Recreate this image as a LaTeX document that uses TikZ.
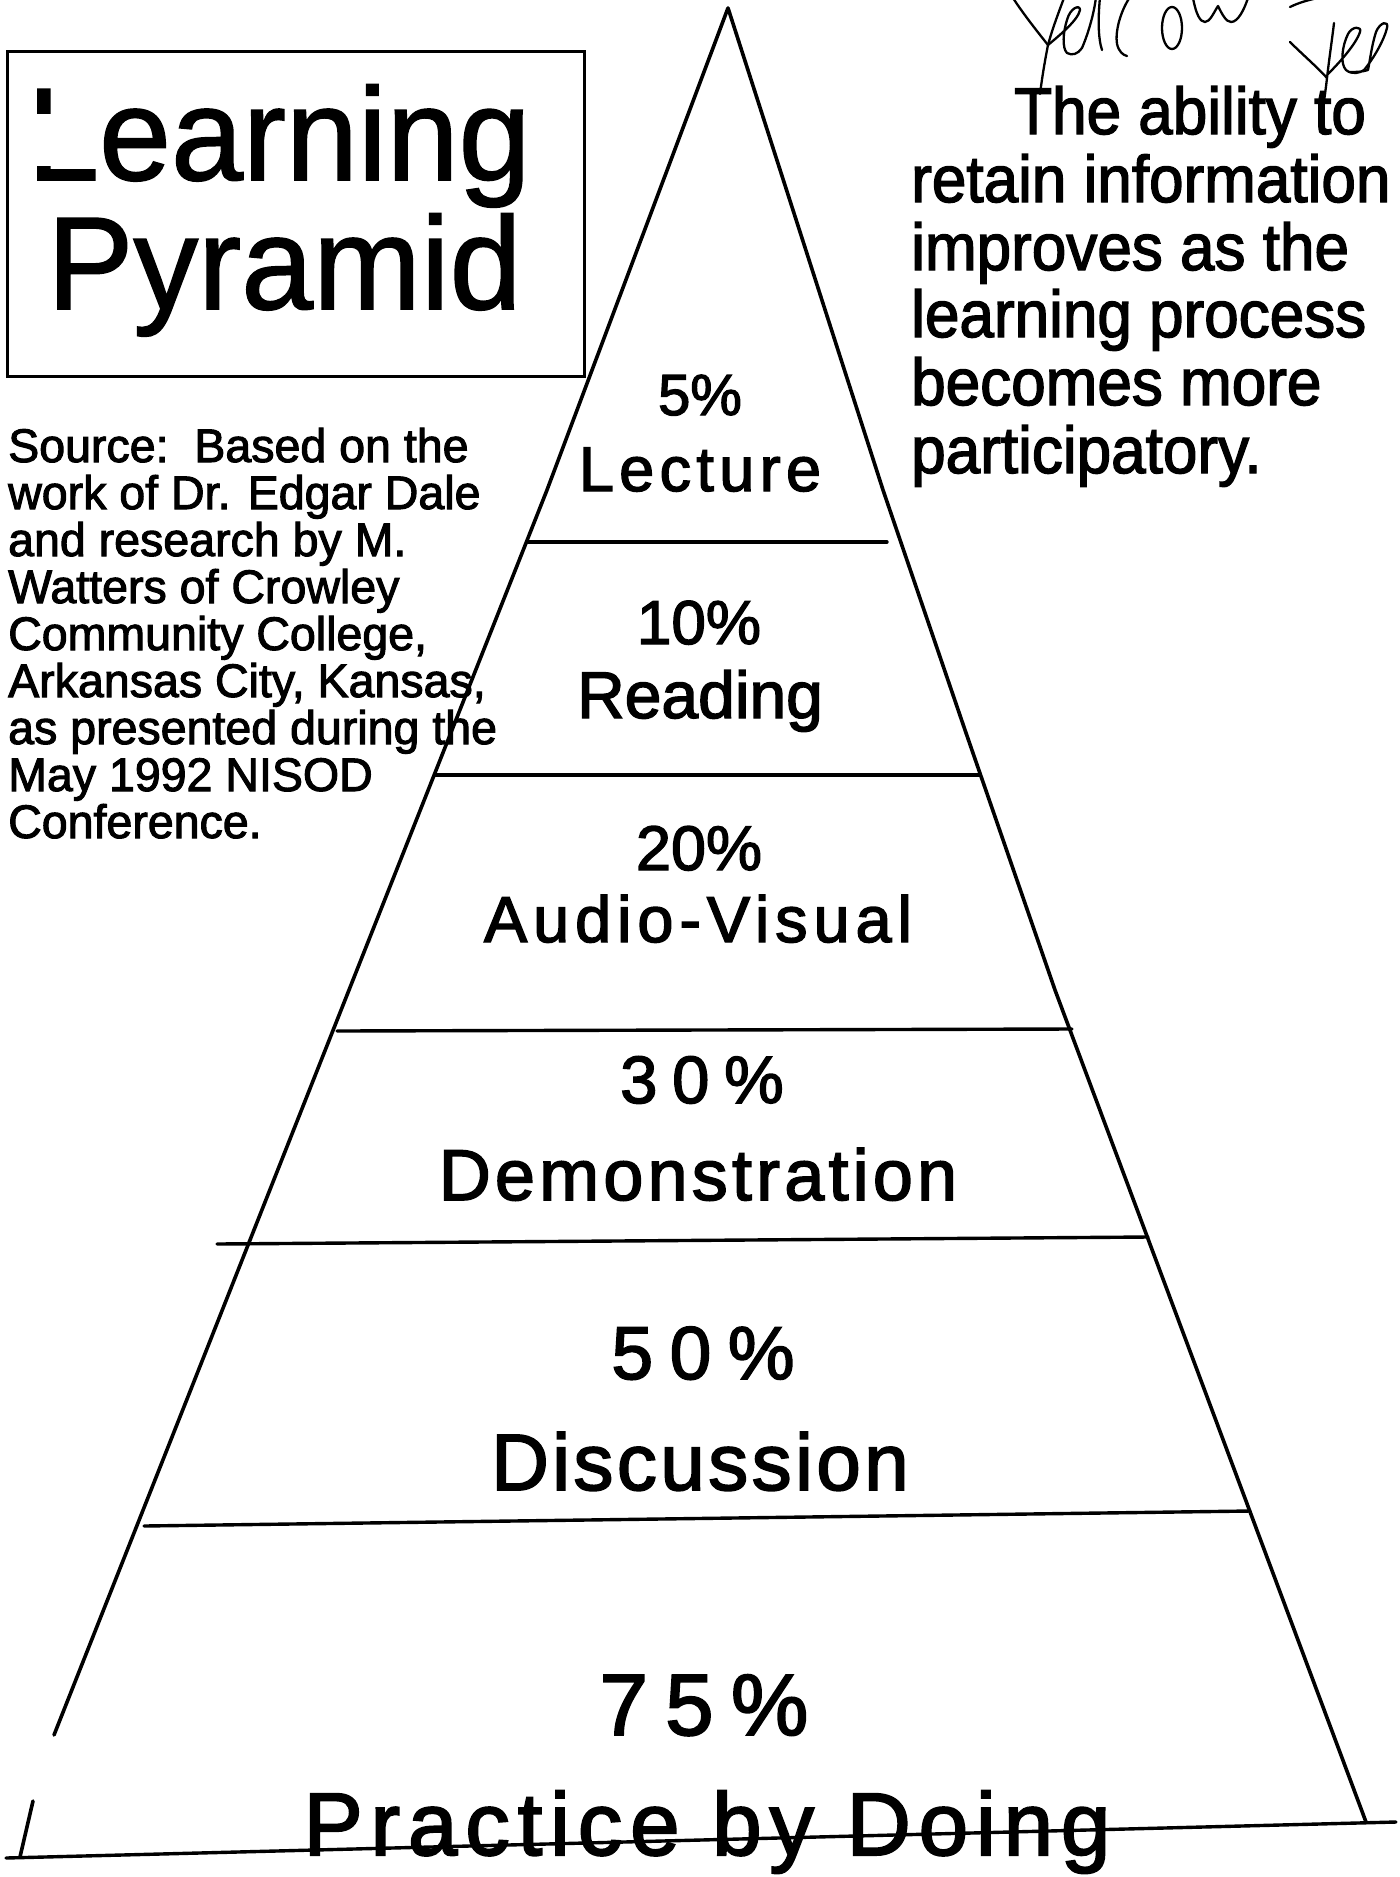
\documentclass[tikz,border=0pt]{standalone}
\usepackage{fontspec}
\usepackage{graphicx}
\setmainfont{Liberation Sans}
\newfontfamily\heavyfont[FakeBold=2.2]{Liberation Sans}
\newfontfamily\titlefont[FakeBold=1.2]{Liberation Sans}
\tikzset{
  edge/.style={line width=3.6pt, line cap=round, line join=round},
  divider/.style={line width=3.4pt, line cap=round},
  lbl/.style={anchor=base, inner sep=0pt},
  txt/.style={anchor=base west, inner sep=0pt},
  hand/.style={line width=2.3pt, line cap=round, line join=round},
}
\newcommand{\tracked}[3]{{\heavyfont\fontsize{#1}{#1}\selectfont\addfontfeature{LetterSpace=#2}#3}}
\newcommand{\plainlbl}[2]{{\heavyfont\fontsize{#1}{#1}\selectfont #2}}
\newcommand{\ttl}[1]{{\titlefont\fontsize{132}{132}\selectfont\scalebox{0.98}[1]{#1}}}
\newcommand{\rtxt}[1]{{\heavyfont\fontsize{66}{66}\selectfont\scalebox{0.94}[1]{#1}}}
\newcommand{\stxt}[1]{{\heavyfont\fontsize{47}{47}\selectfont\scalebox{0.99}[1]{#1}}}
\begin{document}
\begin{tikzpicture}[x=1pt,y=-1pt]
\useasboundingbox (0,0) rectangle (1400,1877);
\fill[white] (0,0) rectangle (1400,1877);

% ---- pyramid outline
\coordinate (apex) at (728,8);
\coordinate (l1) at (547,490);
\coordinate (l2) at (54,1735);
\coordinate (l3) at (33,1801);
\coordinate (l4) at (20,1857);
\coordinate (r1) at (883,490);
\coordinate (r2) at (965,730);
\coordinate (r3) at (1055,990);
\coordinate (r4) at (1366,1822);
\draw[edge] (l2) -- (l1) -- (apex) -- (r1) -- (r2) -- (r3) -- (r4);
\draw[edge] (l3) -- (l4);

% ---- dividers
\coordinate (d1a) at (528,542);  \coordinate (d1b) at (887,542);
\coordinate (d2a) at (435,775);  \coordinate (d2b) at (980,775);
\coordinate (d3a) at (337,1031); \coordinate (d3b) at (1072,1029);
\coordinate (d4a) at (217,1244); \coordinate (d4b) at (1148,1237);
\coordinate (d5a) at (144,1526); \coordinate (d5b) at (1250,1511);
\coordinate (d6a) at (6,1858);   \coordinate (d6b) at (1396,1822);
\draw[divider] (d1a) -- (d1b);
\draw[divider] (d2a) -- (d2b);
\draw[divider] (d3a) -- (d3b);
\draw[divider] (d4a) -- (d4b);
\draw[divider] (d5a) -- (d5b);
\draw[divider] (d6a) -- (d6b);

% ---- pyramid labels
\node[lbl] (p5)  at (700,415)  {\plainlbl{58}{5\%}};
\node[lbl] (lec) at (700,491)  {\tracked{63}{8.5}{Lecture}};
\node[lbl] (p10) at (699,644)  {\plainlbl{62}{10\%}};
\node[lbl] (rea) at (700,718)  {\plainlbl{66}{Reading}};
\node[lbl] (p20) at (699,870)  {\plainlbl{63}{20\%}};
\node[lbl] (av)  at (698,942)  {\tracked{65}{9}{Audio-Visual}};
\node[lbl] (p30) at (702,1103) {\tracked{67}{22}{30\%}};
\node[lbl] (dem) at (698,1200) {\tracked{72}{5.8}{Demonstration}};
\node[lbl] (p50) at (703,1379) {\tracked{75}{22}{50\%}};
\node[lbl] (dis) at (700,1490) {\tracked{80}{4.3}{Discussion}};
\node[lbl] (p75) at (704,1735) {\tracked{87}{20}{75\%}};
\node[lbl] (pbd) at (707,1855) {\tracked{89}{8.8}{Practice by Doing}};

% ---- title box
\node[draw, line width=2.5pt, minimum width=577pt, minimum height=325pt,
      anchor=north west, inner sep=0pt] (titlebox) at (6,50) {};
\node[txt] (tl1) at (27,180) {\ttl{Learning}};
\node[txt] (tl2) at (47,309) {\ttl{Pyramid}};
\fill[white] (28,114) rectangle (56,166);

% ---- right text
\node[txt] (rt1) at (1014,134) {\rtxt{The ability to}};
\node[txt] (rt2) at (911,202)  {\rtxt{retain information}};
\node[txt] (rt3) at (911,270)  {\rtxt{improves as the}};
\node[txt] (rt4) at (911,337)  {\rtxt{learning process}};
\node[txt] (rt5) at (911,405)  {\rtxt{becomes more}};
\node[txt] (rt6) at (911,473)  {\rtxt{participatory.}};

% ---- source text
\node[txt] (s1) at (8,462) {\stxt{Source:\ \ Based on the}};
\node[txt] (s2) at (8,509) {\stxt{work of Dr. Edgar Dale}};
\node[txt] (s3) at (8,556) {\stxt{and research by M.}};
\node[txt] (s4) at (8,603) {\stxt{Watters of Crowley}};
\node[txt] (s5) at (8,650) {\stxt{Community College,}};
\node[txt] (s6) at (8,697) {\stxt{Arkansas City, Kansas,}};
\node[txt] (s7) at (8,744) {\stxt{as presented during the}};
\node[txt] (s8) at (8,791) {\stxt{May 1992 NISOD}};
\node[txt] (s9) at (8,838) {\stxt{Conference.}};

% ---- handwriting "Yellow ~ yes"
% Y
\draw[hand] (1013,-2) .. controls (1022,12) and (1036,30) .. (1048,45);
\draw[hand] (1064,-2) .. controls (1058,14) and (1052,30) .. (1048,45)
            .. controls (1045,60) and (1042,78) .. (1040,94);
% e
\draw[hand] (1048,45) .. controls (1060,35) and (1078,20) .. (1080,10)
            .. controls (1080,4) and (1070,8) .. (1067,20)
            .. controls (1063,32) and (1062,48) .. (1067,53)
            .. controls (1072,56) and (1078,54) .. (1082,48);
% l l
\draw[hand] (1082,48) .. controls (1088,34) and (1094,14) .. (1096,-3);
\draw[hand] (1100,-3) .. controls (1098,18) and (1098,38) .. (1102,50);
\draw[hand] (1130,-3) .. controls (1120,12) and (1115,32) .. (1117,44)
            .. controls (1119,52) and (1123,55) .. (1127,56);
% o
\draw[hand] (1172,28) ellipse [x radius=10, y radius=21];
% w
\draw[hand] (1193,-2) .. controls (1196,14) and (1200,22) .. (1205,22)
            .. controls (1210,22) and (1214,12) .. (1218,6)
            .. controls (1222,14) and (1226,22) .. (1231,22)
            .. controls (1238,22) and (1244,10) .. (1248,-2);
% dash
\draw[hand] (1290,7) .. controls (1298,3) and (1308,0) .. (1318,-2);
% y
\draw[hand] (1290,42) .. controls (1302,54) and (1316,66) .. (1327,78);
\draw[hand] (1334,23) .. controls (1332,40) and (1329,60) .. (1327,78)
            .. controls (1325,96) and (1322,114) .. (1320,132);
% e s
\draw[hand] (1328,74) .. controls (1340,62) and (1356,44) .. (1360,32)
            .. controls (1362,26) and (1352,26) .. (1348,34)
            .. controls (1342,46) and (1340,64) .. (1346,70)
            .. controls (1352,75) and (1360,73) .. (1364,70)
            .. controls (1374,58) and (1384,40) .. (1387,28)
            .. controls (1389,20) and (1380,22) .. (1376,32)
            .. controls (1372,44) and (1370,60) .. (1368,70)
            .. controls (1362,72) and (1356,72) .. (1350,72);
\end{tikzpicture}
\end{document}
